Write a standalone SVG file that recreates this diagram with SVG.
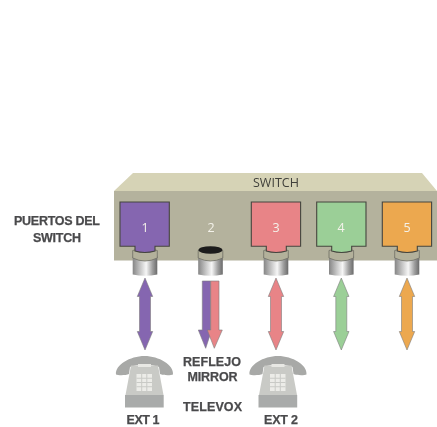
<svg xmlns="http://www.w3.org/2000/svg" width="437" height="427" viewBox="0 0 437 427">
<style>
.lbl{font-family:"Liberation Sans",Arial,sans-serif;font-weight:700;font-size:12.500px;fill:#4a4a4c;stroke:#4a4a4c;stroke-width:.25px;text-anchor:middle}
.num{font-family:"Open Sans","Liberation Sans",sans-serif;font-size:12.500px;fill:#f4f2ea;text-anchor:middle}
.port{stroke:#45453f;stroke-width:1.100}
.arr{stroke:#7d7d7d;stroke-width:.6}
.p1{fill:#8566b0}.p3{fill:#e88487}.p4{fill:#9bcf97}.p5{fill:#eca850}
</style>
<defs>
<filter id="soft" x="0" y="0" width="100%" height="100%"><feGaussianBlur stdDeviation="0.35"/></filter>
<linearGradient id="cyl" x1="0" x2="1" y1="0" y2="0">
<stop offset="0" stop-color="#858585"/><stop offset=".3" stop-color="#c4c4c4"/><stop offset=".55" stop-color="#f6f6f6"/><stop offset=".8" stop-color="#a0a0a0"/><stop offset="1" stop-color="#6a6a6a"/>
</linearGradient>
<g id="plug">
<path d="M-12.300 8V26.500Q0 29 12.300 26.500V8Z" fill="url(#cyl)"/>
<path d="M-12.300 2.500Q0-1.500 12.300 2.500V10Q0 16 -12.300 10Z" fill="#b3b19b" stroke="#6f6e63" stroke-width=".8"/>
</g>
<path id="portshape" d="M0 0H49.300V44.300H35V49Q24.600 52 15 49V44.300H0Z"/>
<path id="biarrow" d="M0 0L7.700 18.500H5.500V53.500H7.700L0 72L-7.700 53.500H-5.500V18.500H-7.700Z"/>
<g id="phone">
<path d="M0 18.500C-1 9 14 0 28.500 0C43 0 58 9 57 18.500C55 19.500 47 19.500 44 18L43 11C35 8 22 8 14 11L13 18C10 19.500 2 19.500 0 18.500Z" fill="#a8a9a7"/>
<path d="M15 9.500H42L47.500 39H9.500Z" fill="#c9cac6"/>
<path d="M9 39H47.700V51.500H9Z" fill="#a9abaa"/>
<path d="M22 8H35V11H22Z" fill="#e8e8e4"/>
<rect x="20.500" y="18" width="15.500" height="17" fill="#ecece8"/>
<path d="M25.700 18V35M30.800 18V35M20.500 22.250H36M20.500 26.500H36M20.500 30.750H36" stroke="#c9cac6" stroke-width="1"/>
</g>
</defs>
<rect width="437" height="427" fill="#fff"/>
<g filter="url(#soft)">
<g id="switch">
<path d="M114 191L133 173H422L437 191Z" fill="#d6d3b6"/>
<rect x="114" y="191" width="323" height="69.500" fill="#b4b29d"/>
<text x="276" y="186.500" font-family="'Open Sans','Liberation Sans',sans-serif" font-size="13" fill="#3f3f3a" text-anchor="middle" textLength="46" lengthAdjust="spacingAndGlyphs">SWITCH</text>
</g>
<g id="port1">
<use href="#plug" x="145" y="248"/>
<use href="#portshape" x="120" y="202" class="p1 port"/>
<text class="num" x="145" y="232">1</text>
</g>
<g id="port2">
<use href="#plug" x="210.500" y="248"/>
<ellipse cx="210.500" cy="250" rx="12" ry="3.800" fill="#1c1c1c"/>
<text class="num" x="211" y="232">2</text>
</g>
<g id="port3">
<use href="#plug" x="276" y="248"/>
<use href="#portshape" x="251.300" y="202" class="p3 port"/>
<text class="num" x="276" y="232">3</text>
</g>
<g id="port4">
<use href="#plug" x="341.300" y="248"/>
<use href="#portshape" x="316.700" y="202" class="p4 port"/>
<text class="num" x="341" y="232">4</text>
</g>
<g id="port5">
<use href="#plug" x="407" y="248"/>
<use href="#portshape" x="382.300" y="202" class="p5 port"/>
<text class="num" x="407" y="232">5</text>
</g>
<g id="connectors">
<use href="#biarrow" x="145" y="278" class="p1 arr"/>
<path d="M202.300 281H210.700V330H211.700L205.700 348.300L198.300 330H202.300Z" class="p1 arr"/>
<path d="M210.700 281H219V330H222.300L214.300 348.300L207.300 330H210.700Z" class="p3 arr"/>
<use href="#biarrow" x="276" y="278" class="p3 arr"/>
<use href="#biarrow" x="341.300" y="278" class="p4 arr"/>
<use href="#biarrow" x="407" y="278" class="p5 arr"/>
</g>
<g id="ext1">
<use href="#phone" x="116" y="356"/>
<text class="lbl" x="143" y="424.300" textLength="33">EXT 1</text>
</g>
<g id="ext2">
<use href="#phone" x="249.500" y="356"/>
<text class="lbl" x="281" y="424.300" textLength="34">EXT 2</text>
</g>
<g id="labels">
<text class="lbl" x="57" y="224.500" textLength="86">PUERTOS DEL</text>
<text class="lbl" x="57" y="242" textLength="48">SWITCH</text>
<text class="lbl" x="212" y="366" textLength="58">REFLEJO</text>
<text class="lbl" x="212.500" y="381" textLength="50">MIRROR</text>
<text class="lbl" x="212.500" y="410.500" textLength="59">TELEVOX</text>
</g>
</g>
</svg>
